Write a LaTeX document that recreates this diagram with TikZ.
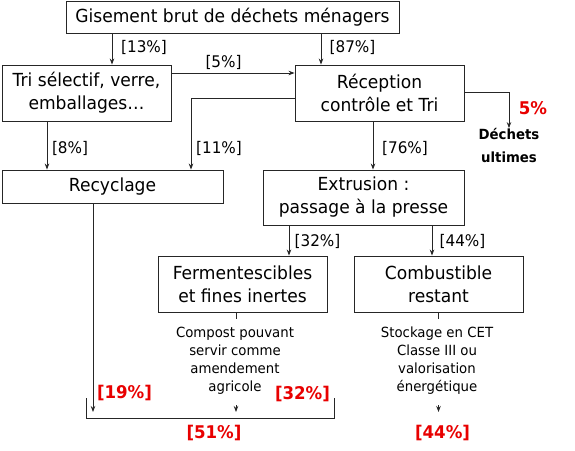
\documentclass[tikz,border=0pt]{standalone}
\usepackage{fontspec}
\setmainfont{DejaVu Sans}[FakeStretch=0.95]
\usetikzlibrary{arrows.meta}
\definecolor{redlab}{RGB}{232,0,0}
\begin{document}
\begin{tikzpicture}[x=1pt,y=-1pt,
  box/.style={draw=black!85,line width=0.9pt,inner sep=0pt,align=center,
    font=\fontsize{18}{23}\selectfont},
  lab/.style={inner sep=0pt,font=\fontsize{16}{19}\selectfont},
  redl/.style={inner sep=0pt,text=redlab,font=\fontsize{17.5}{20}\selectfont\bfseries},
  note/.style={inner sep=0pt,align=center,font=\fontsize{14}{18}\selectfont},
  arr/.style={-{Stealth[length=6pt,width=4.5pt]},line width=0.8pt,draw=black!85},
  ln/.style={line width=0.8pt,draw=black!85}]
\useasboundingbox (0,0) rectangle (575,450);
% boxes
\node[box,minimum width=333pt,minimum height=32pt] (gis) at (232.5,17) {Gisement brut de déchets ménagers};
\node[box,minimum width=169pt,minimum height=56pt] (tri) at (86.5,93) {Tri sélectif, verre,\\emballages…};
\node[box,minimum width=169pt,minimum height=56pt] (rec) at (379.5,93) {Réception\\contrôle et Tri};
\node[box,minimum width=221pt,minimum height=33pt] (recy) at (112.5,186.5) {Recyclage};
\node[box,minimum width=201pt,minimum height=55pt] (ext) at (363.5,197.5) {Extrusion :\\passage à la presse};
\node[box,minimum width=169pt,minimum height=56pt] (fer) at (242.5,284) {Fermentescibles\\et fines inertes};
\node[box,minimum width=169pt,minimum height=56pt] (com) at (438.5,284) {Combustible\\restant};
% notes
\node[inner sep=0pt,align=center,font=\fontsize{14}{23}\selectfont\bfseries] (dech) at (509,145.5) {Déchets\\ultimes};
\node[note] (compost) at (235,361) {Compost pouvant\\servir comme\\amendement\\agricole};
\node[note] (stock) at (437,361) {Stockage en CET\\Classe III ou\\valorisation\\énergétique};
% helper coordinates
\coordinate (x13) at (112,0);
\coordinate (x87) at (321,0);
\coordinate (y5) at (0,73);
\coordinate (y11) at (0,98);
\coordinate (x11) at (191,0);
\coordinate (x8) at (47,0);
\coordinate (y5r) at (0,92);
\coordinate (x76) at (373,0);
\coordinate (x32) at (289,0);
\coordinate (x44) at (432,0);
\coordinate (xre) at (93,0);
\coordinate (xfe) at (236,0);
\coordinate (xco) at (438.5,0);
\coordinate (recyend) at (93,412);
\coordinate (fera) at (236,405);
\coordinate (ferb) at (236,412);
\coordinate (coma) at (438.5,405);
\coordinate (comb) at (438.5,412);
\coordinate (br1) at (86,398);
\coordinate (br2) at (86,418);
\coordinate (br3) at (334,418);
\coordinate (br4) at (334,398);
% connectors
\draw[arr] (gis.south -| x13) -- (tri.north -| x13);
\draw[arr] (gis.south -| x87) -- (rec.north -| x87);
\draw[arr] (tri.east |- y5) -- (rec.west |- y5);
\draw[arr] (rec.west |- y11) -| (recy.north -| x11);
\draw[arr] (tri.south -| x8) -- (recy.north -| x8);
\draw[arr] (rec.east |- y5r) -| (dech.north);
\draw[arr] (rec.south -| x76) -- (ext.north -| x76);
\draw[arr] (ext.south -| x32) -- (fer.north -| x32);
\draw[arr] (ext.south -| x44) -- (com.north -| x44);
\draw[arr] (recy.south -| xre) -- (recyend);
\draw[ln] (fer.south -| xfe) -- ++(0,7);
\draw[ln] (com.south -| xco) -- ++(0,7);
\draw[arr] (fera) -- (ferb);
\draw[arr] (coma) -- (comb);
\draw[ln] (br1) -- (br2) -- (br3) -- (br4);
% labels
\node[lab] (l13) at (144,47) {[13\%]};
\node[lab] (l87) at (352.5,47) {[87\%]};
\node[lab] (l5) at (223.5,62) {[5\%]};
\node[lab] (l8) at (70,148) {[8\%]};
\node[lab] (l11) at (219,148) {[11\%]};
\node[lab] (l76) at (405,148) {[76\%]};
\node[lab] (l32) at (317.5,241) {[32\%]};
\node[lab] (l44) at (462.5,241) {[44\%]};
\node[redl] (r5) at (533,108) {5\%};
\node[redl] (r19) at (124.5,393) {[19\%]};
\node[redl] (r32) at (302.5,394) {[32\%]};
\node[redl] (r51) at (214,433) {[51\%]};
\node[redl] (r44) at (442.5,433) {[44\%]};
\end{tikzpicture}
\end{document}
